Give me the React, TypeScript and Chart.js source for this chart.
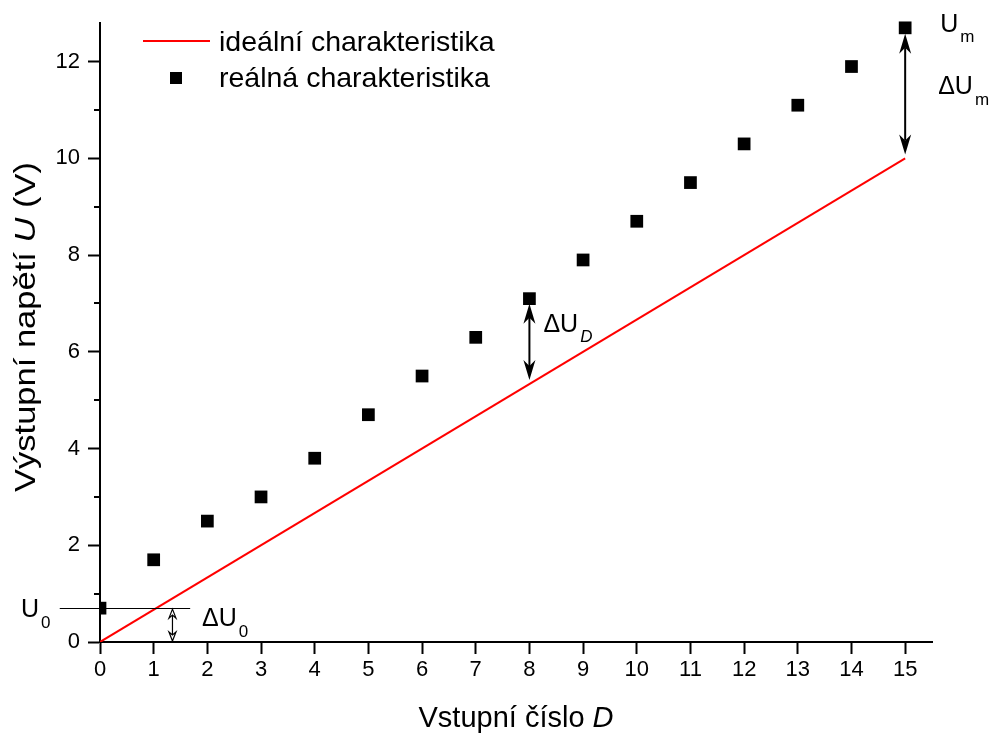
import React, { useEffect, useRef } from 'react';
import { Chart, registerables } from 'chart.js';

Chart.register(...registerables);

// ---- data ----
const inputCodes = [0, 1, 2, 3, 4, 5, 6, 7, 8, 9, 10, 11, 12, 13, 14, 15];
const realOutput = [0.7, 1.7, 2.5, 3.0, 3.8, 4.7, 5.5, 6.3, 7.1, 7.9, 8.7, 9.5, 10.3, 11.1, 11.9, 12.7];
const idealCodes = [0, 15];
const idealOutput = [0, 10];
const yMinorTicks = [1, 3, 5, 7, 9, 11];

const xTitle = 'Vstupní číslo ';
const xTitleItalic = 'D';
const yTitle1 = 'Výstupní napětí ';
const yTitleItalic = 'U';
const yTitle2 = ' (V)';
const legendIdeal = 'ideální charakteristika';
const legendReal = 'reálná charakteristika';

const FONT = "'Liberation Sans', Arial, sans-serif";

function headPath(ctx: CanvasRenderingContext2D, x: number, yTip: number, dir: number, len: number, half: number, notch: number) {
  ctx.beginPath();
  ctx.moveTo(x, yTip);
  ctx.lineTo(x - half, yTip - dir * len);
  ctx.lineTo(x, yTip - dir * notch);
  ctx.lineTo(x + half, yTip - dir * len);
  ctx.closePath();
}

function doubleArrow(ctx: CanvasRenderingContext2D, x: number, yTop: number, yBot: number, len: number, half: number, notch: number, filled: boolean, lw: number) {
  ctx.save();
  ctx.strokeStyle = '#000';
  ctx.fillStyle = '#000';
  ctx.lineWidth = lw;
  ctx.beginPath();
  ctx.moveTo(x, yTop + notch);
  ctx.lineTo(x, yBot - notch);
  ctx.stroke();
  headPath(ctx, x, yTop, -1, len, half, notch);
  if (filled) ctx.fill();
  else { ctx.fillStyle = '#fff'; ctx.fill(); ctx.lineWidth = 1.2; ctx.stroke(); }
  headPath(ctx, x, yBot, 1, len, half, notch);
  if (filled) ctx.fill();
  else { ctx.fillStyle = '#fff'; ctx.fill(); ctx.lineWidth = 1.2; ctx.stroke(); }
  ctx.restore();
}

function subText(ctx: CanvasRenderingContext2D, x: number, y: number, main: string, sub: string, subItalic: boolean, size: number, subSize: number, subDrop: number) {
  ctx.save();
  ctx.fillStyle = '#000';
  ctx.textBaseline = 'alphabetic';
  ctx.textAlign = 'left';
  ctx.font = `${size}px ${FONT}`;
  ctx.fillText(main, x, y);
  const w = ctx.measureText(main).width;
  ctx.font = `${subItalic ? 'italic ' : ''}${subSize}px ${FONT}`;
  ctx.fillText(sub, x + w + 2, y + subDrop);
  ctx.restore();
}

const decorPlugin = {
  id: 'decor',
  afterDraw(chart: any) {
    const ctx: CanvasRenderingContext2D = chart.ctx;
    const xs = chart.scales.x;
    const ys = chart.scales.y;
    const area = chart.chartArea;
    const px = (v: number) => xs.getPixelForValue(v);
    const py = (v: number) => ys.getPixelForValue(v);

    // minor ticks on y axis
    ctx.save();
    ctx.strokeStyle = '#000';
    ctx.lineWidth = 2;
    yMinorTicks.forEach((v) => {
      const y = Math.round(py(v));
      ctx.beginPath();
      ctx.moveTo(area.left - 6, y);
      ctx.lineTo(area.left, y);
      ctx.stroke();
    });
    ctx.restore();

    const idealAt = (d: number) =>
      idealOutput[0] + ((idealOutput[1] - idealOutput[0]) * (d - idealCodes[0])) / (idealCodes[1] - idealCodes[0]);

    // U0 horizontal line and small arrow
    const u0 = realOutput[0];
    ctx.save();
    ctx.strokeStyle = '#000';
    ctx.lineWidth = 1;
    ctx.beginPath();
    ctx.moveTo(px(-0.75), Math.round(py(u0)) + 0.5);
    ctx.lineTo(px(1.68), Math.round(py(u0)) + 0.5);
    ctx.stroke();
    ctx.restore();
    doubleArrow(ctx, px(1.35), py(u0) + 1, py(0) - 1, 9, 3.5, 6, false, 1.2);
    subText(ctx, 21, py(u0) + 9, 'U', '0', false, 25, 17, 11);
    subText(ctx, 202, py(u0) + 18, '\u0394U', '0', false, 25, 17, 11);

    // ΔU_D arrow at D = 8
    const d8 = 8;
    doubleArrow(ctx, px(d8), py(realOutput[d8]) + 5, py(idealAt(d8)) - 4, 20, 6, 14, true, 2);
    subText(ctx, px(d8) + 14, py(realOutput[d8]) + 33, '\u0394U', 'D', true, 25, 17, 10);

    // ΔU_m arrow at D = 15
    const d15 = 15;
    doubleArrow(ctx, px(d15), py(realOutput[d15]) + 6, py(idealAt(d15)) - 4, 20, 6, 14, true, 2);
    subText(ctx, px(d15) + 35, py(realOutput[d15]) + 4, 'U', 'm', false, 25, 17, 10);
    subText(ctx, px(d15) + 33, py(realOutput[d15]) + 66, '\u0394U', 'm', false, 25, 17, 11);

    // legend
    ctx.save();
    ctx.strokeStyle = '#ff0000';
    ctx.lineWidth = 2;
    ctx.beginPath();
    ctx.moveTo(143, 41);
    ctx.lineTo(210, 41);
    ctx.stroke();
    ctx.fillStyle = '#000';
    ctx.fillRect(170, 72, 12, 12);
    ctx.font = `28.5px ${FONT}`;
    ctx.textBaseline = 'alphabetic';
    ctx.textAlign = 'left';
    ctx.fillText(legendIdeal, 219, 51);
    ctx.fillText(legendReal, 219, 87);
    ctx.restore();

    // x axis title
    ctx.save();
    ctx.fillStyle = '#000';
    ctx.textBaseline = 'alphabetic';
    ctx.font = `29px ${FONT}`;
    const w1 = ctx.measureText(xTitle).width;
    ctx.font = `italic 29px ${FONT}`;
    const w2 = ctx.measureText(xTitleItalic).width;
    const cx = (area.left + area.right) / 2;
    const x0 = cx - (w1 + w2) / 2;
    ctx.font = `29px ${FONT}`;
    ctx.fillText(xTitle, x0, 727);
    ctx.font = `italic 29px ${FONT}`;
    ctx.fillText(xTitleItalic, x0 + w1, 727);
    ctx.restore();

    // y axis title
    ctx.save();
    ctx.fillStyle = '#000';
    ctx.textBaseline = 'alphabetic';
    ctx.translate(35, 327);
    ctx.rotate(-Math.PI / 2);
    ctx.scale(1.15, 1);
    ctx.font = `30px ${FONT}`;
    const a = ctx.measureText(yTitle1).width;
    const c = ctx.measureText(yTitle2).width;
    ctx.font = `italic 30px ${FONT}`;
    const b = ctx.measureText(yTitleItalic).width;
    const start = -(a + b + c) / 2;
    ctx.font = `30px ${FONT}`;
    ctx.fillText(yTitle1, start, 0);
    ctx.font = `italic 30px ${FONT}`;
    ctx.fillText(yTitleItalic, start + a, 0);
    ctx.font = `30px ${FONT}`;
    ctx.fillText(yTitle2, start + a + b, 0);
    ctx.restore();
  },
};

export default function App() {
  const ref = useRef<HTMLCanvasElement | null>(null);

  useEffect(() => {
    if (!ref.current) return;
    const tickFont = { family: FONT, size: 22 };
    const chart = new Chart(ref.current, {
      type: 'scatter',
      data: {
        datasets: [
          {
            label: legendIdeal,
            data: idealCodes.map((d, i) => ({ x: d, y: idealOutput[i] })),
            showLine: true,
            borderColor: '#ff0000',
            borderWidth: 2,
            pointRadius: 0,
            fill: false,
          },
          {
            label: legendReal,
            data: inputCodes.map((d, i) => ({ x: d, y: realOutput[i] })),
            showLine: false,
            pointStyle: 'rect',
            pointRadius: 9,
            borderWidth: 0,
            backgroundColor: '#000',
            borderColor: '#000',
            clip: { left: 0, top: 10, right: 10, bottom: 0 },
          } as any,
        ],
      },
      options: {
        responsive: false,
        animation: false,
        layout: { padding: { top: 23, right: 61, left: 0, bottom: 0 } },
        plugins: { legend: { display: false }, tooltip: { enabled: false } },
        scales: {
          x: {
            type: 'linear',
            min: 0,
            max: 15.5,
            afterFit: (s: any) => { s.height = 94; },
            ticks: { stepSize: 1, includeBounds: false, font: tickFont, color: '#000', padding: 3, maxRotation: 0, autoSkip: false },
            grid: { drawOnChartArea: false, drawTicks: true, tickLength: 12, tickWidth: 2, tickColor: '#000' },
            border: { color: '#000', width: 2 },
          },
          y: {
            type: 'linear',
            min: 0,
            max: 12.8,
            afterFit: (s: any) => { s.width = 100; },
            ticks: { stepSize: 2, includeBounds: false, font: tickFont, color: '#000', padding: 8, autoSkip: false },
            grid: { drawOnChartArea: false, drawTicks: true, tickLength: 12, tickWidth: 2, tickColor: '#000' },
            border: { color: '#000', width: 2 },
          },
        },
      } as any,
      plugins: [decorPlugin],
    });
    return () => chart.destroy();
  }, []);

  return (
    <div style={{ position: 'absolute', left: 0, top: 0, width: 993, height: 736, background: '#fff' }}>
      <canvas ref={ref} width={993} height={736} style={{ width: 993, height: 736, display: 'block' }} />
    </div>
  );
}
